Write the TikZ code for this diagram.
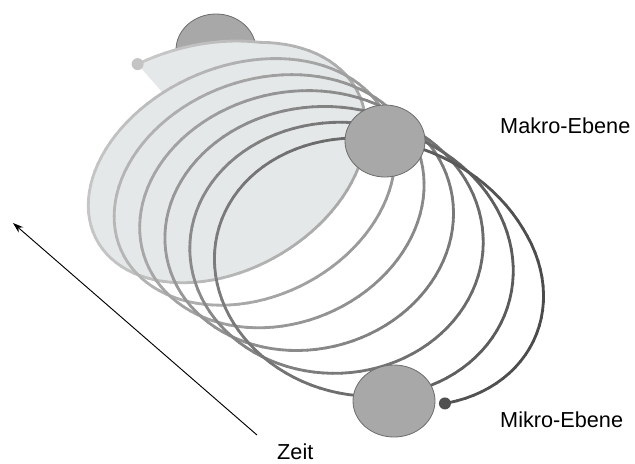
\documentclass[tikz,border=0pt]{standalone}
\usepackage{fontspec}
\setmainfont{Liberation Sans}
\usetikzlibrary{arrows.meta,shapes.geometric}
\definecolor{fillc}{HTML}{E5E8E9}
\definecolor{ballc}{HTML}{A8A8A8}
\definecolor{balledge}{HTML}{6E6E6E}
\definecolor{startc}{HTML}{C4C4C4}
\definecolor{endc}{HTML}{505050}
\pgfmathdeclarefunction{hx}{1}{\pgfmathparse{228+27.2*((#1)-0.5)+(145+2*((#1)-0.5))*sin(360*(#1))+(15-6.8*((#1)-0.5))*cos(360*(#1))-5*max(0,(0.03-(#1))/0.13)}}
\pgfmathdeclarefunction{hy}{1}{\pgfmathparse{166+19.4*((#1)-0.5)+(-22+3.2*((#1)-0.5))*sin(360*(#1))+(-112-3.8*(#1))*cos(360*(#1))-14*max(0,(0.03-(#1))/0.13)-12*max(0,((#1)-6.2)/0.27)}}
\tikzset{
  ball/.style={fill=ballc, draw=balledge, line width=0.7pt},
  label/.style={font=\fontsize{18.5}{22}\selectfont, inner sep=0pt, anchor=base west},
  helixline/.style={line width=2.4pt, line cap=round}
}
\begin{document}
\begin{tikzpicture}[x=0.03cm,y=-0.03cm]
\useasboundingbox (0,0) rectangle (635,463);
% top ball (partly hidden)
\draw[ball] (216,50) ellipse [x radius=1.2cm, y radius=1.08cm];
% light fill of the back ring
\fill[fillc] plot[domain=-0.1:0.9, samples=90, variable=\t] ({hx(\t)},{hy(\t)}) -- cycle;
% helix
\foreach \i in {0,...,656}{
  \pgfmathsetmacro{\sa}{-0.1+0.01*\i}
  \pgfmathsetmacro{\sb}{\sa+0.0105}
  \pgfmathsetmacro{\xa}{hx(\sa)}
  \pgfmathsetmacro{\ya}{hy(\sa)}
  \pgfmathsetmacro{\xb}{hx(\sb)}
  \pgfmathsetmacro{\yb}{hy(\sb)}
  \pgfmathsetmacro{\g}{max(0,min(100,100*(1-(0.7-0.045*\sa+0.0005*(300-\xa)))))}
  \draw[helixline, draw=black!\g] (\xa,\ya) -- (\xb,\yb);
}
% balls
\node[ball, ellipse, minimum width=2.4cm, minimum height=2.16cm, inner sep=0pt] (makro) at (385,141) {};
\node[ball, ellipse, minimum width=2.46cm, minimum height=2.16cm, inner sep=0pt] (mikro) at (394,401) {};
% start and end dots
\pgfmathsetmacro{\xs}{hx(-0.1)}\pgfmathsetmacro{\ys}{hy(-0.1)}
\pgfmathsetmacro{\xe}{hx(6.47)}\pgfmathsetmacro{\ye}{hy(6.47)}
\fill[startc] (\xs,\ys) circle [radius=0.18cm];
\fill[endc] (\xe,\ye) circle [radius=0.18cm];
% time arrow
\coordinate (zeittail) at (257,435);
\coordinate (zeithead) at (13,223);
\draw[line width=0.8pt, -{Stealth[length=9pt, width=6pt]}] (zeittail) -- (zeithead);
% labels
\node[label] (makrolabel) at (500,133) {Makro-Ebene};
\node[label] (mikrolabel) at (500,427.5) {Mikro-Ebene};
\node[label] (zeitlabel) at (277,459.5) {Zeit};
\end{tikzpicture}
\end{document}
